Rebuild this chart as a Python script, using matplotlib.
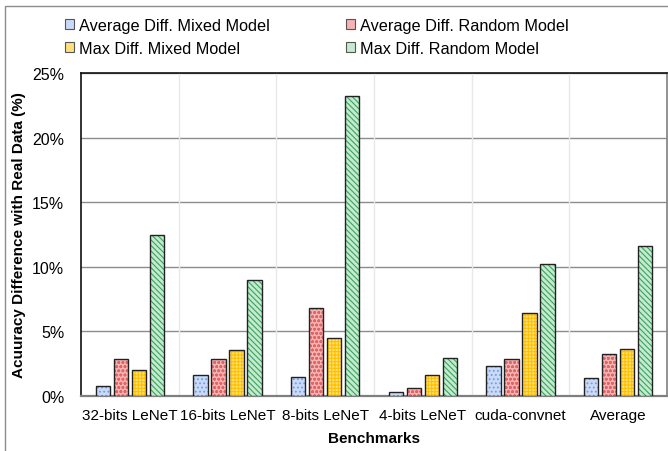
import matplotlib
matplotlib.use("Agg")
import matplotlib.pyplot as plt
import numpy as np
from matplotlib.patches import Rectangle
from matplotlib.ticker import FuncFormatter, MultipleLocator

plt.rcParams['font.family'] = ['Liberation Sans', 'DejaVu Sans']

categories = ["32-bits LeNeT", "16-bits LeNeT", "8-bits LeNeT", "4-bits LeNeT", "cuda-convnet", "Average"]
series_names = ["Average Diff. Mixed Model", "Average Diff. Random Model",
                "Max Diff. Mixed Model", "Max Diff. Random Model"]
avg_mixed = [0.75, 1.60, 1.45, 0.28, 2.35, 1.42]
avg_random = [2.89, 2.84, 6.80, 0.60, 2.84, 3.27]
max_mixed = [1.99, 3.54, 4.47, 1.63, 6.40, 3.61]
max_random = [12.46, 8.98, 23.20, 2.97, 10.24, 11.58]
series_values = [avg_mixed, avg_random, max_mixed, max_random]

faces = ['#c9daf8', '#f6b3b3', '#ffe07a', '#c4ead0']
hatch_cols = ['#6d9eeb', '#e06666', '#ffc000', '#38a55a']
hatches = ['....', 'oooo', '+++++', '\\\\\\\\\\\\']

fig = plt.figure(figsize=(6.68, 4.52), dpi=100)
ax = fig.add_axes([81/668, 1-397/452, 586/668, 323/452])

x = np.arange(len(categories))
step = 0.184
width = 0.148
handles = []
plt.rcParams['hatch.linewidth'] = 0.8
for j, vals in enumerate(series_values):
    pos = x + (j - 1.5) * step
    ax.bar(pos, vals, width, color=faces[j], edgecolor=hatch_cols[j], hatch=hatches[j],
           linewidth=0, zorder=3)
    ax.bar(pos, vals, width, fill=False, edgecolor='#222222', linewidth=1.0, zorder=4)
    handles.append(Rectangle((0, 0), 1, 1, facecolor=faces[j], edgecolor='#555555',
                             hatch=None, linewidth=0.8))

ax.set_xlim(-0.5, len(categories) - 0.5)
ax.set_ylim(0, 25)
ax.yaxis.set_major_locator(MultipleLocator(5))
ax.yaxis.set_major_formatter(FuncFormatter(lambda v, p: f"{v:.0f}%"))
ax.set_xticks(x)
ax.set_xticklabels(categories, fontsize=11)
ax.tick_params(axis='y', labelsize=11.5, length=0, pad=12)
ax.tick_params(axis='x', length=0, pad=9)

ax.yaxis.grid(True, color='#8c8c8c', linewidth=1.0, zorder=1)
for b in np.arange(0.5, len(categories) - 0.5, 1.0):
    ax.axvline(b, color='#e8e8e8', linewidth=1.0, zorder=1)
ax.set_axisbelow(True)
for side in ['left', 'top']:
    ax.spines[side].set_color('#111111')
    ax.spines[side].set_linewidth(1.2)
ax.spines['bottom'].set_color('#7f7f7f')
ax.spines['bottom'].set_linewidth(1.6)
ax.spines['right'].set_color('#7f7f7f')
ax.spines['right'].set_linewidth(1.2)

ax.set_xlabel("Benchmarks", fontsize=11, fontweight='bold', labelpad=6)
ax.set_ylabel("Acuuracy Difference with Real Data (%)", fontsize=11, fontweight='bold')
ax.yaxis.set_label_coords(-0.094, 0.5)

order = [0, 2, 1, 3]
fig.legend([handles[i] for i in order], [series_names[i] for i in order],
           loc='upper left', bbox_to_anchor=(50/668, 1-4/452),
           ncol=2, frameon=False, fontsize=11.7, handlelength=0.6, handleheight=0.6,
           handletextpad=0.3, columnspacing=4.65, labelspacing=0.5)

fig.patches.append(Rectangle((5/668, -0.1), 1.1, 1 - 7/452 + 0.1, transform=fig.transFigure,
                             fill=False, edgecolor='#8c8c8c', linewidth=1.0))

fig.savefig("out.png", dpi=100)
